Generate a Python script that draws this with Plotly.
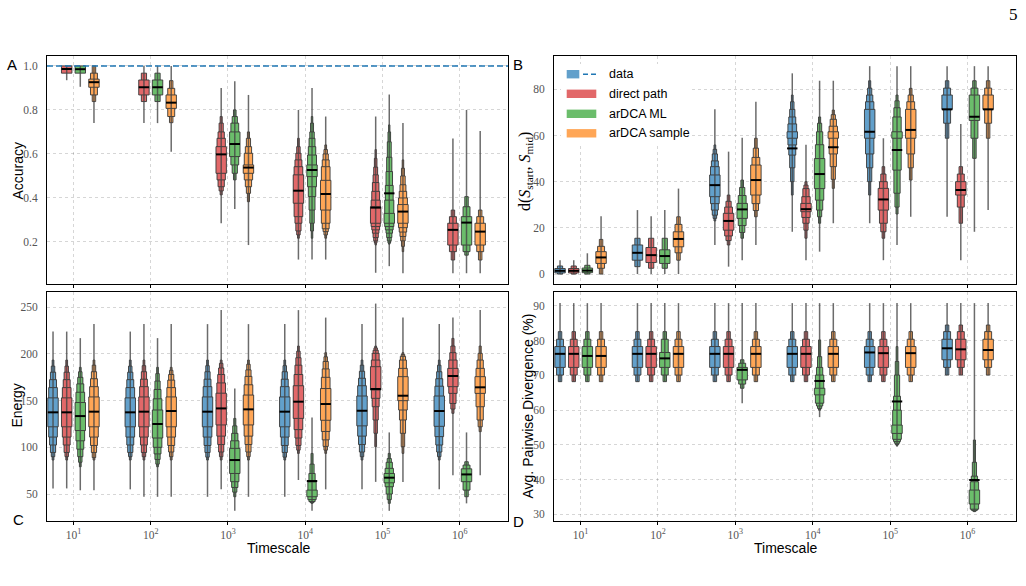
import plotly.graph_objects as go

# ---------------- data ----------------
TIMESCALE_EXP = [1, 2, 3, 4, 5, 6]
TIMESCALE_LABELS = ["10<sup>1</sup>", "10<sup>2</sup>", "10<sup>3</sup>",
                    "10<sup>4</sup>", "10<sup>5</sup>", "10<sup>6</sup>"]
SERIES_NAMES = ["data", "direct path", "arDCA ML", "arDCA sample"]
DATA_ACCURACY = 1.0

# Panel A: Accuracy  (mean line, lower letter values inner->outer, upper letter values, outlier range)
ACC_DIRECT_MEAN = [0.986, 0.903, 0.598, 0.433, 0.356, 0.255]
ACC_DIRECT_LO = [[0.967], [0.868, 0.838], [0.512, 0.482, 0.451, 0.432, 0.414],
                 [0.376, 0.315, 0.285, 0.25, 0.232, 0.217],
                 [0.285, 0.27, 0.255, 0.24, 0.22, 0.205, 0.195, 0.186], [0.186, 0.156, 0.118]]
ACC_DIRECT_HI = [[1.0], [0.936, 0.967], [0.633, 0.671, 0.70, 0.74, 0.77],
                 [0.505, 0.542, 0.573, 0.603, 0.633, 0.671],
                 [0.36, 0.39, 0.43, 0.47, 0.505, 0.54, 0.58, 0.62], [0.285, 0.315, 0.345]]
ACC_DIRECT_MIN = [0.935, 0.74, 0.285, 0.12, 0.06, 0.058]
ACC_DIRECT_MAX = [1.0, 1.0, 0.90, 0.80, 0.77, 0.67]

ACC_ML_MEAN = [0.985, 0.903, 0.645, 0.527, 0.421, 0.288]
ACC_ML_LO = [[0.967], [0.868, 0.838], [0.588, 0.55, 0.512, 0.482],
             [0.497, 0.451, 0.406, 0.345, 0.285, 0.25, 0.217],
             [0.285, 0.27, 0.255, 0.24, 0.22, 0.205, 0.195, 0.19], [0.186, 0.156, 0.14]]
ACC_ML_HI = [[1.0], [0.936, 0.967], [0.70, 0.74, 0.77, 0.80],
             [0.55, 0.595, 0.633, 0.671, 0.70, 0.74, 0.77],
             [0.33, 0.39, 0.457, 0.52, 0.585, 0.655, 0.70, 0.732], [0.315, 0.36, 0.406]]
ACC_ML_MIN = [0.905, 0.74, 0.35, 0.12, 0.09, 0.058]
ACC_ML_MAX = [1.0, 1.0, 0.93, 0.90, 0.87, 0.80]

ACC_SAMPLE_MEAN = [0.926, 0.833, 0.538, 0.418, 0.338, 0.247]
ACC_SAMPLE_LO = [[0.903, 0.868, 0.838], [0.807, 0.77, 0.742], [0.512, 0.482, 0.451, 0.421, 0.383],
                 [0.345, 0.285, 0.26, 0.247, 0.232, 0.217],
                 [0.285, 0.265, 0.245, 0.225, 0.205, 0.18, 0.156], [0.186, 0.156, 0.118]]
ACC_SAMPLE_HI = [[0.94, 0.967, 1.0], [0.868, 0.898, 0.933], [0.55, 0.603, 0.633, 0.671, 0.70],
                 [0.48, 0.542, 0.573, 0.60, 0.62, 0.641],
                 [0.37, 0.40, 0.43, 0.46, 0.50, 0.535, 0.573], [0.285, 0.315, 0.345]]
ACC_SAMPLE_MIN = [0.74, 0.61, 0.186, 0.12, 0.058, 0.058]
ACC_SAMPLE_MAX = [1.0, 1.0, 0.868, 0.77, 0.74, 0.704]

# Panel B: d(S_start, S_mid)
DIST_DATA_MEAN = [1.4, 9.2, 38.5, 54.4, 61.6, 71.3]
DIST_DATA_LO = [[0.5, 0.0], [6.0, 3.2], [33.5, 30.5, 27.7, 25.5, 24.1, 23.0],
                [58.8, 55.9, 51.5, 46.0, 40.0, 34.2], [58.8, 52.0, 46.0, 40.0, 34.2], [71.3, 65.3, 58.8]]
DIST_DATA_HI = [[2.4, 3.5], [12.6, 15.5], [42.9, 46.5, 49.0, 52.0, 54.0, 55.9],
                [61.6, 65.0, 68.0, 71.3, 74.6, 77.5], [71.3, 74.6, 77.5, 80.5, 83.7], [77.5, 80.5, 83.7]]
DIST_DATA_MIN = [0.0, 0.0, 12.6, 18.3, 22.0, 24.8]
DIST_DATA_MAX = [6.0, 27.7, 71.3, 86.9, 90.0, 90.0]

DIST_DIRECT_MEAN = [1.4, 8.2, 23.0, 28.1, 32.3, 36.4]
DIST_DIRECT_LO = [[0.5, 0.0], [5.0, 2.5], [19.0, 16.5, 14.5, 12.6], [27.0, 24.5, 22.0, 19.0, 15.5],
                  [27.7, 22.0, 18.3, 15.5], [34.2, 29.0, 22.0]]
DIST_DIRECT_HI = [[2.4, 3.5], [11.5, 15.5], [26.3, 29.0, 31.5, 34.2], [30.6, 33.5, 37.0, 38.5, 40.0],
                  [37.1, 40.0, 43.3, 46.5], [40.0, 43.3, 46.5]]
DIST_DIRECT_MIN = [0.0, 0.0, 3.2, 6.0, 6.0, 6.0]
DIST_DIRECT_MAX = [6.0, 25.0, 53.0, 56.0, 58.8, 65.0]

DIST_ML_MEAN = [1.5, 7.8, 28.0, 43.3, 53.7, 68.1]
DIST_ML_LO = [[0.6, 0.0], [4.6, 2.5], [24.1, 21.0, 18.0, 15.5], [37.0, 32.0, 27.7, 24.8, 22.0],
              [58.8, 45.0, 35.0, 29.0, 26.0], [66.5, 58.8, 50.1]]
DIST_ML_HI = [[2.6, 3.8], [10.5, 15.5], [30.6, 34.0, 37.5, 40.7], [50.0, 56.0, 61.6, 65.3, 68.0],
              [61.6, 68.0, 72.0, 75.0, 77.5], [77.5, 80.5, 83.7]]
DIST_ML_MIN = [0.0, 0.0, 6.0, 9.7, 12.6, 18.3]
DIST_ML_MAX = [9.0, 27.7, 59.0, 83.7, 90.0, 90.0]

DIST_SAMPLE_MEAN = [7.2, 15.2, 40.7, 54.9, 62.4, 71.3]
DIST_SAMPLE_LO = [[4.6, 2.5, 0.0], [11.8, 9.2, 6.0], [34.2, 30.5, 27.5, 24.8],
                  [58.8, 52.0, 46.5, 41.0, 37.1], [58.8, 52.0, 46.0, 40.7], [71.3, 65.3, 58.8]]
DIST_SAMPLE_HI = [[9.7, 12.0, 15.0], [18.3, 21.5, 24.8], [47.2, 50.5, 54.5, 58.8],
                  [61.6, 64.0, 67.0, 69.0, 71.0], [71.3, 74.6, 77.5, 80.4], [77.5, 80.5, 83.7]]
DIST_SAMPLE_MIN = [0.0, 0.0, 12.6, 22.0, 24.8, 27.7]
DIST_SAMPLE_MAX = [25.0, 37.0, 74.6, 83.7, 90.0, 90.0]

# Panel C: Energy
ENERGY_DATA_MEAN = [137.5, 137.5, 138.2, 138.2, 139.2, 138.9]
ENERGY_DATA_LO = [[122, 111, 102.5, 94.5, 90, 86.4], [122, 111, 102.5, 94.5, 90, 86.4],
                  [122, 111, 102, 94.5, 89.5, 86.4], [122, 111, 102, 94.5, 89.5, 86.4],
                  [123, 112, 103, 95, 90, 86.4], [122.5, 111.5, 102.5, 95, 90, 86.4]]
ENERGY_DATA_HI = [[153, 164, 172.5, 180.5, 187, 193.5], [153, 164, 172.5, 180.5, 187, 193.5],
                  [154, 165, 173, 181, 187.5, 193.5], [154, 165, 173, 181, 187.5, 193.5],
                  [155, 166, 174, 181.5, 188, 193.5], [155, 165.5, 173.5, 181, 188, 193.5]]
ENERGY_DATA_MIN = [56, 55, 47, 47, 55, 55]
ENERGY_DATA_MAX = [224, 224, 232, 232, 232, 232]

ENERGY_DIRECT_MEAN = [137.5, 138.2, 141.7, 148.9, 162.5, 176.4]
ENERGY_DIRECT_LO = [[122, 111, 102.5, 94.5, 90, 86.4], [122, 111, 102.5, 94.5, 90, 86.4],
                    [124, 112, 103, 95, 90, 86.4], [131, 119, 110, 102, 97, 93.5],
                    [161.4, 152.5, 143.5, 129.3, 115, 100.7], [165, 157.8, 147, 141, 136.4]]
ENERGY_DIRECT_HI = [[153, 164, 172.5, 180.5, 187, 193.5], [154, 165, 173, 181, 187.5, 193.5],
                    [158, 169, 178, 185, 190, 193.5], [166, 178, 188, 196, 203, 208.5],
                    [186.4, 193.5, 200.7, 204, 206.5, 208.5], [184.6, 193.5, 201.4, 208.5, 216.7]]
ENERGY_DIRECT_MIN = [56, 47, 55, 65, 63, 70]
ENERGY_DIRECT_MAX = [224, 232, 247, 247, 254, 239]

ENERGY_ML_MEAN = [133.5, 125.0, 86.4, 63.9, 67.5, 71.0]
ENERGY_ML_LO = [[118, 107, 98, 90, 84, 79.2], [110, 100, 93, 87, 82, 79.2],
                [72, 63.2, 57, 52, 47.1], [47.1, 44, 42, 41, 40],
                [62, 57.8, 50, 44, 40], [63.2, 54.2, 47.1]]
ENERGY_ML_HI = [[148, 159, 168, 175, 181, 185.7], [140, 152, 162, 171, 179, 185.7],
                [98.9, 107, 115, 123, 131], [54.2, 63, 72, 82, 93.5],
                [72, 77.5, 84, 88, 93.5], [77, 81, 84.6]]
ENERGY_ML_MIN = [54, 47, 32, 32, 32, 40]
ENERGY_ML_MAX = [217, 217, 163, 132, 116, 116]

ENERGY_SAMPLE_MEAN = [138.2, 138.9, 140.7, 146.4, 155.3, 164.3]
ENERGY_SAMPLE_LO = [[122, 111, 102, 94.5, 89, 86.4], [122, 111, 102, 95, 90, 86.4],
                    [124, 112, 103, 95, 90, 86.4], [129, 117, 108, 101, 97, 93.5],
                    [150, 140, 129.3, 115, 100.7, 93.5], [157.8, 143.5, 129.3, 122, 116.8]]
ENERGY_SAMPLE_HI = [[154, 165, 173.5, 181, 188, 193.5], [154, 164, 172, 178, 182.5, 185.7],
                    [156, 167, 176, 183, 189, 193.5], [163, 175, 184, 192, 197, 201.4],
                    [175.7, 184.6, 193.5, 197.5, 199.5, 201.4], [175.7, 184.6, 193.5, 200.7, 208.5]]
ENERGY_SAMPLE_MIN = [54, 47, 47, 55, 63, 70]
ENERGY_SAMPLE_MAX = [232, 232, 232, 239, 239, 247]

# Panel D: Avg. pairwise divergence (%)
DIV_DATA_MEAN = [76.2, 76.2, 76.2, 76.2, 76.6, 77.8]
DIV_DATA_LO = [[72.3, 70.1, 68.2], [72.3, 70.1, 68.2], [72.3, 70.1, 68.2],
               [72.3, 70.1, 68.2], [72.3, 70.1, 68.2], [74.5, 72.3, 70.1]]
DIV_DATA_HI = [[78.3, 80.4, 82.6], [78.3, 80.4, 82.6], [78.3, 80.4, 82.6],
               [78.3, 80.4, 82.6], [78.3, 80.4, 82.6], [80.4, 82.6, 84.5]]
DIV_DATA_MIN = [68.2, 68.2, 68.2, 68.2, 68.2, 70.1]
DIV_DATA_MAX = [90.8, 90.8, 90.8, 90.8, 90.8, 90.8]

DIV_DIRECT_MEAN = [76.2, 76.2, 76.2, 76.2, 76.4, 77.5]
DIV_DIRECT_LO = [[72.3, 70.1, 68.2], [72.3, 70.1, 68.2], [72.3, 70.1, 68.2],
                 [72.3, 70.1, 68.2], [72.3, 70.1, 68.2], [74.5, 72.3, 70.1]]
DIV_DIRECT_HI = [[78.3, 80.4, 82.6], [78.3, 80.4, 82.6], [78.3, 80.4, 82.6],
                 [78.3, 80.4, 82.6], [78.3, 80.4, 82.6], [80.4, 82.6, 84.5]]
DIV_DIRECT_MIN = [68.2, 68.2, 68.2, 68.2, 68.2, 70.1]
DIV_DIRECT_MAX = [90.8, 90.8, 90.8, 90.8, 90.8, 90.8]

DIV_ML_MEAN = [75.6, 74.9, 71.6, 68.4, 62.5, 39.9]
DIV_ML_LO = [[72.3, 70.1, 68.2], [72.3, 70.1, 68.2], [68.7, 67.5, 66.3],
             [64.4, 62.0, 61.2, 60.5, 60.0], [53.3, 51.6, 51.0, 50.5, 50.1, 49.8],
             [33.0, 31.5, 31.2, 31.0, 30.8]]
DIV_ML_HI = [[78.3, 80.4, 82.6], [76.6, 80.4, 82.6], [72.3, 73.5, 74.5],
             [66.3, 70.1, 72.3, 75.4, 80.2], [55.7, 60.0, 64.0, 70.1, 74.0, 78.3],
             [37.0, 39.4, 41.0, 45.0, 51.4]]
DIV_ML_MIN = [68.2, 68.2, 62.0, 58.0, 49.5, 30.8]
DIV_ML_MAX = [90.8, 90.8, 90.8, 90.8, 90.8, 90.8]

DIV_SAMPLE_MEAN = [75.6, 76.2, 76.2, 76.2, 76.4, 77.3]
DIV_SAMPLE_LO = [[72.3, 70.1, 68.2], [72.3, 70.1, 68.2], [72.3, 70.1, 68.2],
                 [72.3, 70.1, 68.2], [72.3, 70.1, 68.2], [74.5, 72.3, 70.1]]
DIV_SAMPLE_HI = [[78.3, 80.4, 82.6], [78.3, 80.4, 82.6], [78.3, 80.4, 82.6],
                 [78.3, 80.4, 82.6], [78.3, 80.4, 82.6], [80.4, 82.6, 84.5]]
DIV_SAMPLE_MIN = [68.2, 68.2, 68.2, 68.2, 68.2, 70.1]
DIV_SAMPLE_MAX = [90.8, 90.8, 90.8, 90.8, 90.8, 90.8]

ACC_TICKS = [0.2, 0.4, 0.6, 0.8, 1.0]
DIST_TICKS = [0, 20, 40, 60, 80]
ENERGY_TICKS = [50, 100, 150, 200, 250]
DIV_TICKS = [30, 40, 50, 60, 70, 80, 90]

# ---------------- style ----------------
FILL = ["rgb(98,160,203)", "rgb(226,104,105)", "rgb(107,189,107)", "rgb(255,166,86)"]
EDGE = "rgba(55,55,55,0.9)"
WHISKER = "rgba(70,70,70,0.8)"
OFFSETS = [-0.265, -0.088, 0.088, 0.265]
BOX_W = 0.135
X_RANGE = [0.657, 6.625]
GRID = "rgba(0,0,0,0.16)"
SERIF = "Liberation Serif"
SANS = "Liberation Sans"
TICKFONT = dict(family=SERIF, size=11.5, color="#555555")

fig = go.Figure()


def add_boxen(xa, ya, k, mean, lo, hi, vmin, vmax):
    xs = [e + OFFSETS[k] for e in TIMESCALE_EXP]
    wx, wy = [], []
    for x, a, b in zip(xs, vmin, vmax):
        wx += [x, x, None]
        wy += [a, b, None]
    fig.add_trace(go.Scatter(x=wx, y=wy, mode="lines", xaxis=xa, yaxis=ya,
                             line=dict(color=WHISKER, width=1.5), hoverinfo="skip"))
    bx, bb, bh, bw = [], [], [], []
    kmax = max(len(l) for l in lo)
    for lev in range(kmax - 1, -1, -1):
        for x, l, u in zip(xs, lo, hi):
            n = len(l)
            if lev < n:
                bx.append(x)
                bb.append(l[lev])
                bh.append(u[lev] - l[lev])
                bw.append(BOX_W * (n - lev) / n)
    fig.add_trace(go.Bar(x=bx, y=bh, base=bb, width=bw, xaxis=xa, yaxis=ya,
                         marker=dict(color=FILL[k], line=dict(color=EDGE, width=1)),
                         hoverinfo="skip"))
    mx, my = [], []
    for x, m in zip(xs, mean):
        mx += [x - BOX_W / 2, x + BOX_W / 2, None]
        my += [m, m, None]
    fig.add_trace(go.Scatter(x=mx, y=my, mode="lines", xaxis=xa, yaxis=ya,
                             line=dict(color="black", width=2), hoverinfo="skip"))


# Panel A
add_boxen("x", "y", 1, ACC_DIRECT_MEAN, ACC_DIRECT_LO, ACC_DIRECT_HI, ACC_DIRECT_MIN, ACC_DIRECT_MAX)
add_boxen("x", "y", 2, ACC_ML_MEAN, ACC_ML_LO, ACC_ML_HI, ACC_ML_MIN, ACC_ML_MAX)
add_boxen("x", "y", 3, ACC_SAMPLE_MEAN, ACC_SAMPLE_LO, ACC_SAMPLE_HI, ACC_SAMPLE_MIN, ACC_SAMPLE_MAX)
# Panel B
add_boxen("x2", "y2", 0, DIST_DATA_MEAN, DIST_DATA_LO, DIST_DATA_HI, DIST_DATA_MIN, DIST_DATA_MAX)
add_boxen("x2", "y2", 1, DIST_DIRECT_MEAN, DIST_DIRECT_LO, DIST_DIRECT_HI, DIST_DIRECT_MIN, DIST_DIRECT_MAX)
add_boxen("x2", "y2", 2, DIST_ML_MEAN, DIST_ML_LO, DIST_ML_HI, DIST_ML_MIN, DIST_ML_MAX)
add_boxen("x2", "y2", 3, DIST_SAMPLE_MEAN, DIST_SAMPLE_LO, DIST_SAMPLE_HI, DIST_SAMPLE_MIN, DIST_SAMPLE_MAX)
# Panel C
add_boxen("x3", "y3", 0, ENERGY_DATA_MEAN, ENERGY_DATA_LO, ENERGY_DATA_HI, ENERGY_DATA_MIN, ENERGY_DATA_MAX)
add_boxen("x3", "y3", 1, ENERGY_DIRECT_MEAN, ENERGY_DIRECT_LO, ENERGY_DIRECT_HI, ENERGY_DIRECT_MIN, ENERGY_DIRECT_MAX)
add_boxen("x3", "y3", 2, ENERGY_ML_MEAN, ENERGY_ML_LO, ENERGY_ML_HI, ENERGY_ML_MIN, ENERGY_ML_MAX)
add_boxen("x3", "y3", 3, ENERGY_SAMPLE_MEAN, ENERGY_SAMPLE_LO, ENERGY_SAMPLE_HI, ENERGY_SAMPLE_MIN, ENERGY_SAMPLE_MAX)
# Panel D
add_boxen("x4", "y4", 0, DIV_DATA_MEAN, DIV_DATA_LO, DIV_DATA_HI, DIV_DATA_MIN, DIV_DATA_MAX)
add_boxen("x4", "y4", 1, DIV_DIRECT_MEAN, DIV_DIRECT_LO, DIV_DIRECT_HI, DIV_DIRECT_MIN, DIV_DIRECT_MAX)
add_boxen("x4", "y4", 2, DIV_ML_MEAN, DIV_ML_LO, DIV_ML_HI, DIV_ML_MIN, DIV_ML_MAX)
add_boxen("x4", "y4", 3, DIV_SAMPLE_MEAN, DIV_SAMPLE_LO, DIV_SAMPLE_HI, DIV_SAMPLE_MIN, DIV_SAMPLE_MAX)


def xax(domain, anchor, labels):
    return dict(domain=domain, anchor=anchor, range=X_RANGE, tickmode="array",
                tickvals=TIMESCALE_EXP, ticktext=TIMESCALE_LABELS, showticklabels=labels,
                ticks="outside", ticklen=3, tickcolor="black", showgrid=True, gridcolor=GRID,
                griddash="dot", gridwidth=1, showline=True, linecolor="black", linewidth=1,
                mirror=True, zeroline=False, tickfont=TICKFONT, ticklabelstandoff=0)


def yax(domain, anchor, rng, ticks, fmt):
    return dict(domain=domain, anchor=anchor, range=rng, tickmode="array", tickvals=ticks,
                tickformat=fmt, ticks="", showgrid=True, gridcolor=GRID, griddash="dot",
                gridwidth=1, showline=True, linecolor="black", linewidth=1, mirror=True,
                zeroline=False, tickfont=TICKFONT, ticklabelstandoff=6)


XL = [47 / 1026, 508 / 1026]
XR = [554 / 1026, 1016 / 1026]
YT = [1 - 284 / 586, 1 - 56 / 586]
YB = [1 - 521 / 586, 1 - 292 / 586]

fig.update_layout(
    width=1026, height=586, margin=dict(l=0, r=0, t=0, b=0),
    plot_bgcolor="white", paper_bgcolor="white", showlegend=False, barmode="overlay",
    xaxis=xax(XL, "y", False), yaxis=yax(YT, "x", [0.009, 1.045], ACC_TICKS, ".1f"),
    xaxis2=xax(XR, "y2", False), yaxis2=yax(YT, "x2", [-4.3, 94.4], DIST_TICKS, "d"),
    xaxis3=xax(XL, "y3", True), yaxis3=yax(YB, "x3", [21.1, 266.4], ENERGY_TICKS, "d"),
    xaxis4=xax(XR, "y4", True), yaxis4=yax(YB, "x4", [28.1, 94.0], DIV_TICKS, "d"),
)

# "data" reference line in panel A
fig.add_shape(type="line", xref="x domain", x0=0, x1=1, yref="y", y0=DATA_ACCURACY, y1=DATA_ACCURACY,
              line=dict(color="#1f77b4", width=1.5, dash="6px,3px"))


def px(x):
    return x / 1026


def py(y):
    return 1 - y / 586


# legend (panel B)
fig.add_shape(type="rect", xref="paper", yref="paper", x0=px(561), x1=px(692), y0=py(143), y1=py(64),
              fillcolor="white", line=dict(width=0))
LEG_ROWS = [74.2, 93.8, 113.8, 133.3]
for i, name in enumerate(SERIES_NAMES):
    yc = LEG_ROWS[i]
    x1 = 579.3 if i == 0 else 596.3
    fig.add_shape(type="rect", xref="paper", yref="paper", x0=px(566.7), x1=px(x1),
                  y0=py(yc + 4.2), y1=py(yc - 4.2), fillcolor=FILL[i], line=dict(width=0))
    fig.add_annotation(x=px(606.7), y=py(yc), xref="paper", yref="paper", text=name,
                       showarrow=False, xanchor="left", yanchor="middle",
                       font=dict(family=SANS, size=12.5, color="black"))
fig.add_shape(type="line", xref="paper", yref="paper", x0=px(583), x1=px(596.3), y0=py(74.2), y1=py(74.2),
              line=dict(color="#1f77b4", width=1.5, dash="5px,3px"))


# axis titles, panel letters, page number
def note(x, y, text, size=14, angle=0, family=SANS):
    fig.add_annotation(x=px(x), y=py(y), xref="paper", yref="paper", text=text, showarrow=False,
                       xanchor="center", yanchor="middle", textangle=angle,
                       font=dict(family=family, size=size, color="black"))


note(17.5, 171, "Accuracy", angle=-90)
note(16, 405.5, "Energy", angle=-90)
note(278, 548, "Timescale")
note(785.5, 548, "Timescale")
note(526, 172, "d(<i>S</i><sub>start</sub>, <i>S</i><sub>mid</sub>)", angle=-90, family=SERIF, size=16)
note(527, 406.5, "Avg. Pairwise Divergence (%)", angle=-90)
note(12, 65, "A", size=15)
note(518, 65, "B", size=15)
note(18.5, 519, "C", size=15)
note(518, 521.5, "D", size=15)
note(1013, 14, "5", size=17, family=SERIF)

fig.write_html("out.html")
